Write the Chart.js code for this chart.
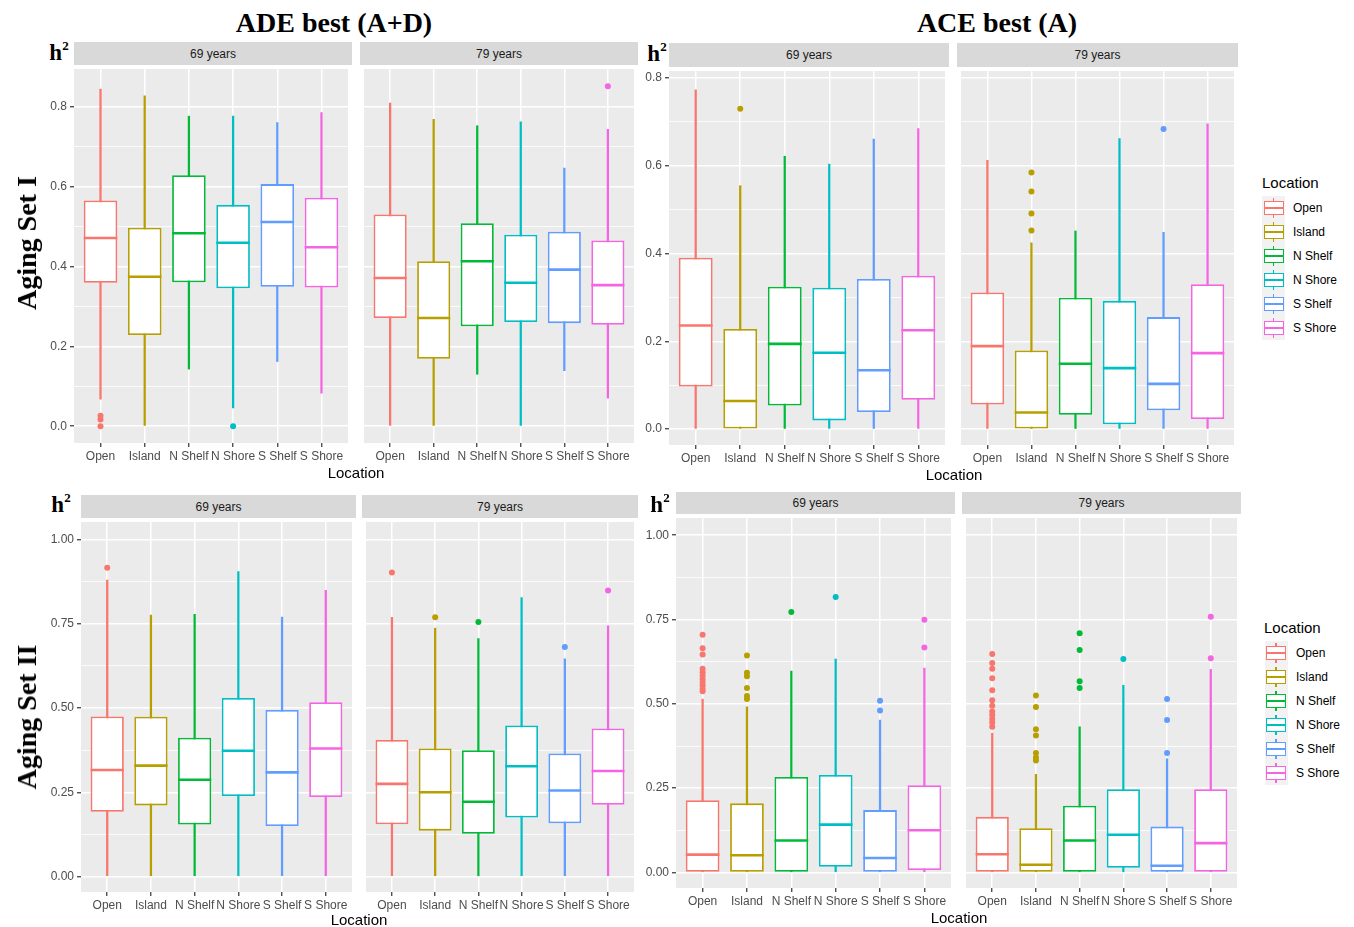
<!DOCTYPE html>
<html>
<head>
<meta charset="utf-8">
<script src="https://cdn.jsdelivr.net/npm/chart.js"></script>
<style>
  body { margin: 0; background: #ffffff; }
  #wrap { position: relative; width: 1354px; height: 927px; overflow: hidden; background: #ffffff;
          font-family: 'Liberation Sans', Arial, Helvetica, sans-serif; }
  canvas { position: absolute; }
  .hdr { position: absolute; font-family: 'Liberation Serif', 'Times New Roman', serif; font-weight: bold;
         font-size: 28px; line-height: 1; color: #000; white-space: nowrap; transform: translate(-50%, -50%); }
  .rowlab { position: absolute; font-family: 'Liberation Serif', 'Times New Roman', serif; font-weight: bold;
         font-size: 28px; line-height: 1; color: #000; white-space: nowrap; transform: translate(-50%, -50%) rotate(-90deg); }
  .hsq { position: absolute; font-family: 'Liberation Serif', 'Times New Roman', serif; font-weight: bold;
         font-size: 23px; line-height: 1; color: #000; white-space: nowrap; transform: translate(-50%, -50%); }
  .hsq sup { font-size: 13px; vertical-align: 0; position: relative; top: -10px; }
  .strip { position: absolute; background: #D9D9D9; color: #1A1A1A; font-size: 12px;
           display: flex; align-items: center; justify-content: center; }
  .xt { position: absolute; font-size: 15px; color: #000; line-height: 1; white-space: nowrap; transform: translate(-50%, -50%); }
  .legt { position: absolute; font-size: 15px; color: #000; line-height: 1; white-space: nowrap; transform: translateY(-50%); }
  .key { position: absolute; width: 23px; height: 24px; background: #F2F2F2; }
  .key .wh { position: absolute; left: 10.8px; top: 2px; width: 1.5px; height: 20px; }
  .key .bx { position: absolute; left: 1.5px; top: 5px; width: 20px; height: 14px; box-sizing: border-box; background: #fff; border-style: solid; border-width: 1.5px; }
  .key .md { position: absolute; left: 1.5px; top: 11.2px; width: 20px; height: 1.6px; }
  .legl { position: absolute; font-size: 12px; color: #000; line-height: 1; white-space: nowrap; transform: translateY(-50%); }
</style>
</head>
<body>
<div id="wrap"></div>
<script>
// ---------------- data ----------------
const locations = ['Open', 'Island', 'N Shelf', 'N Shore', 'S Shelf', 'S Shore'];
const facetLabels = ['69 years', '79 years'];
const locationColors = ['#F8766D', '#B79F00', '#00BA38', '#00BFC4', '#619CFF', '#F564E3'];

// ADE best (A+D), Aging Set I, 69 years
const adeI69Low  = [0.068, 0.000, 0.143, 0.046, 0.162, 0.083];
const adeI69Q1   = [0.359, 0.228, 0.360, 0.345, 0.349, 0.347];
const adeI69Med  = [0.471, 0.374, 0.483, 0.459, 0.511, 0.448];
const adeI69Q3   = [0.565, 0.497, 0.628, 0.554, 0.606, 0.572];
const adeI69High = [0.844, 0.827, 0.776, 0.776, 0.760, 0.785];
const adeI69Out  = [[0.026, 0.017, 0.000], [], [], [0.000], [], []];
// ADE best (A+D), Aging Set I, 79 years
const adeI79Low  = [0.000, 0.000, 0.130, 0.000, 0.139, 0.070];
const adeI79Q1   = [0.271, 0.169, 0.250, 0.261, 0.258, 0.254];
const adeI79Med  = [0.371, 0.271, 0.413, 0.359, 0.392, 0.353];
const adeI79Q3   = [0.530, 0.413, 0.508, 0.479, 0.487, 0.465];
const adeI79High = [0.809, 0.768, 0.752, 0.762, 0.646, 0.743];
const adeI79Out  = [[], [], [], [], [], [0.851]];

// ACE best (A), Aging Set I, 69 years
const aceI69Low  = [0.000, 0.000, 0.000, 0.000, 0.000, 0.000];
const aceI69Q1   = [0.097, 0.000, 0.054, 0.020, 0.039, 0.067];
const aceI69Med  = [0.236, 0.064, 0.194, 0.174, 0.134, 0.225];
const aceI69Q3   = [0.390, 0.228, 0.324, 0.322, 0.342, 0.349];
const aceI69High = [0.772, 0.554, 0.621, 0.603, 0.660, 0.684];
const aceI69Out  = [[], [0.729], [], [], [], []];
// ACE best (A), Aging Set I, 79 years
const aceI79Low  = [0.000, 0.000, 0.000, 0.000, 0.000, 0.000];
const aceI79Q1   = [0.056, 0.000, 0.033, 0.011, 0.043, 0.023];
const aceI79Med  = [0.189, 0.038, 0.149, 0.139, 0.103, 0.173];
const aceI79Q3   = [0.311, 0.179, 0.299, 0.292, 0.255, 0.330];
const aceI79High = [0.612, 0.424, 0.451, 0.661, 0.448, 0.695];
const aceI79Out  = [[], [0.584, 0.541, 0.491, 0.452], [], [], [0.683], []];

// ADE best (A+D), Aging Set II, 69 years
const adeII69Low  = [0.000, 0.000, 0.000, 0.000, 0.000, 0.000];
const adeII69Q1   = [0.192, 0.211, 0.154, 0.239, 0.150, 0.236];
const adeII69Med  = [0.316, 0.329, 0.287, 0.373, 0.309, 0.380];
const adeII69Q3   = [0.475, 0.474, 0.412, 0.530, 0.494, 0.517];
const adeII69High = [0.880, 0.776, 0.778, 0.905, 0.770, 0.849];
const adeII69Out  = [[0.916], [], [], [], [], []];
// ADE best (A+D), Aging Set II, 79 years
const adeII79Low  = [0.000, 0.000, 0.000, 0.000, 0.000, 0.000];
const adeII79Q1   = [0.155, 0.136, 0.127, 0.175, 0.158, 0.213];
const adeII79Med  = [0.275, 0.250, 0.222, 0.327, 0.255, 0.313];
const adeII79Q3   = [0.405, 0.380, 0.375, 0.448, 0.365, 0.439];
const adeII79High = [0.769, 0.737, 0.706, 0.828, 0.646, 0.744];
const adeII79Out  = [[0.902], [0.769], [0.755], [], [0.681], [0.849]];

// ACE best (A), Aging Set II, 69 years
const aceII69Low  = [0.000, 0.000, 0.000, 0.000, 0.000, 0.000];
const aceII69Q1   = [0.000, 0.000, 0.000, 0.017, 0.000, 0.007];
const aceII69Med  = [0.053, 0.051, 0.095, 0.142, 0.043, 0.125];
const aceII69Q3   = [0.214, 0.205, 0.283, 0.289, 0.185, 0.259];
const aceII69High = [0.514, 0.491, 0.597, 0.633, 0.452, 0.606];
const aceII69Out  = [
  [0.705, 0.665, 0.646, 0.604, 0.594, 0.584, 0.574, 0.565, 0.555, 0.545, 0.537],
  [0.643, 0.592, 0.582, 0.547, 0.523, 0.514],
  [0.772],
  [0.817],
  [0.509, 0.480],
  [0.749, 0.667]
];
// ACE best (A), Aging Set II, 79 years
const aceII79Low  = [0.000, 0.000, 0.000, 0.000, 0.000, 0.000];
const aceII79Q1   = [0.000, 0.000, 0.000, 0.014, 0.000, 0.000];
const aceII79Med  = [0.054, 0.023, 0.095, 0.112, 0.020, 0.087];
const aceII79Q3   = [0.165, 0.131, 0.198, 0.247, 0.136, 0.247];
const aceII79High = [0.413, 0.291, 0.432, 0.555, 0.337, 0.602];
const aceII79Out  = [
  [0.648, 0.621, 0.604, 0.576, 0.540, 0.511, 0.494, 0.477, 0.467, 0.455, 0.445, 0.432],
  [0.525, 0.491, 0.425, 0.406, 0.354, 0.341, 0.332],
  [0.709, 0.660, 0.567, 0.547],
  [0.633],
  [0.514, 0.452, 0.354],
  [0.758, 0.635]
];

// ---------------- layout ----------------
const wrap = document.getElementById('wrap');
function addDiv(cls, html, css) {
  const d = document.createElement('div');
  d.className = cls; d.innerHTML = html;
  Object.assign(d.style, css);
  wrap.appendChild(d);
  return d;
}

const axI  = { yMin: -0.042, yMax: 0.894, step: 0.1, major: 0.2, dec: 1 };
const axIc = { yMin: -0.036, yMax: 0.815, step: 0.1, major: 0.2, dec: 1 };
const axII = { yMin: -0.046, yMax: 1.052, step: 0.125, major: 0.25, dec: 2 };
const axIIc= { yMin: -0.046, yMax: 1.051, step: 0.125, major: 0.25, dec: 2 };

const panels = [
  { stats: [adeI69Low, adeI69Q1, adeI69Med, adeI69Q3, adeI69High, adeI69Out], facet: 0, ax: axI, x0: 74, x1: 352, st: 42, y0: 65, y1: 443, showY: true },
  { stats: [adeI79Low, adeI79Q1, adeI79Med, adeI79Q3, adeI79High, adeI79Out], facet: 1, ax: axI, x0: 360, x1: 638, st: 42, y0: 65, y1: 443, showY: false },
  { stats: [aceI69Low, aceI69Q1, aceI69Med, aceI69Q3, aceI69High, aceI69Out], facet: 0, ax: axIc, x0: 669, x1: 949, st: 43, y0: 67, y1: 445, showY: true },
  { stats: [aceI79Low, aceI79Q1, aceI79Med, aceI79Q3, aceI79High, aceI79Out], facet: 1, ax: axIc, x0: 957, x1: 1238, st: 43, y0: 67, y1: 445, showY: false },
  { stats: [adeII69Low, adeII69Q1, adeII69Med, adeII69Q3, adeII69High, adeII69Out], facet: 0, ax: axII, x0: 81, x1: 356, st: 495, y0: 518, y1: 892, showY: true },
  { stats: [adeII79Low, adeII79Q1, adeII79Med, adeII79Q3, adeII79High, adeII79Out], facet: 1, ax: axII, x0: 362, x1: 638, st: 495, y0: 518, y1: 892, showY: false },
  { stats: [aceII69Low, aceII69Q1, aceII69Med, aceII69Q3, aceII69High, aceII69Out], facet: 0, ax: axIIc, x0: 676, x1: 955, st: 492, y0: 514, y1: 888, showY: true },
  { stats: [aceII79Low, aceII79Q1, aceII79Med, aceII79Q3, aceII79High, aceII79Out], facet: 1, ax: axIIc, x0: 962, x1: 1241, st: 492, y0: 514, y1: 888, showY: false }
];

const panelBg = {
  id: 'panelBg',
  beforeDraw(chart) {
    const { ctx, chartArea: a } = chart;
    ctx.save();
    ctx.fillStyle = '#EBEBEB';
    ctx.fillRect(a.left, a.top, a.right - a.left, a.bottom - a.top);
    ctx.restore();
  }
};

Chart.defaults.font.family = "'Liberation Sans', Arial, Helvetica, sans-serif";
Chart.defaults.font.size = 12;
Chart.defaults.color = '#4D4D4D';

function makePanel(p) {
  const [low, q1, med, q3, high, out] = p.stats;
  const ax = p.ax;
  const yW = p.showY ? 40 : 0;
  const xH = 24;
  const w = (p.x1 - p.x0) + yW;
  const h = (p.y1 - p.y0) + xH;

  addDiv('strip', facetLabels[p.facet], { left: p.x0 + 'px', top: p.st + 'px', width: (p.x1 - p.x0) + 'px', height: (p.y0 - p.st) + 'px' });

  const cv = document.createElement('canvas');
  cv.width = w; cv.height = h;
  cv.style.left = (p.x0 - yW) + 'px'; cv.style.top = p.y0 + 'px';
  cv.style.width = w + 'px'; cv.style.height = h + 'px';
  wrap.appendChild(cv);

  const isMajor = v => Math.abs(v / ax.major - Math.round(v / ax.major)) < 1e-6;
  const whiskers = locations.map((_, i) => ({ x: i + 1, y: [low[i], high[i]] }));
  const boxes = locations.map((_, i) => ({ x: i + 1, y: [q1[i], q3[i]] }));
  const medians = locations.map((_, i) => ({ x: i + 1, y: med[i] }));
  const outPts = [], outCols = [];
  out.forEach((vals, i) => vals.forEach(v => { outPts.push({ x: i + 1, y: v }); outCols.push(locationColors[i]); }));

  new Chart(cv, {
    type: 'bar',
    data: {
      datasets: [
        { type: 'bar', data: whiskers, backgroundColor: locationColors, borderWidth: 0,
          barThickness: 1.6, grouped: false, order: 4 },
        { type: 'bar', data: boxes, backgroundColor: '#FFFFFF', borderColor: locationColors, borderWidth: 1.8,
          borderSkipped: false, grouped: false, categoryPercentage: 1, barPercentage: 0.76, order: 3 },
        { type: 'scatter', data: medians, pointStyle: 'line', pointBorderColor: locationColors, pointBorderWidth: 2.6,
          pointRadius: ctx => { const xs = ctx.chart.scales.x; return Math.abs(xs.getPixelForValue(1.38) - xs.getPixelForValue(1)); },
          order: 2 },
        { type: 'scatter', data: outPts, pointStyle: 'circle', pointRadius: 3, pointBackgroundColor: outCols,
          pointBorderWidth: 0, order: 1 }
      ]
    },
    options: {
      responsive: false, animation: false, events: [],
      layout: { padding: 0 },
      plugins: { legend: { display: false }, tooltip: { enabled: false }, title: { display: false } },
      scales: {
        x: {
          type: 'linear', min: 0.4, max: 6.6, offset: false,
          grid: { offset: false, color: '#FFFFFF', lineWidth: 1.5, drawTicks: true, tickLength: 4, tickColor: '#333333', tickWidth: 1.2 },
          border: { display: false },
          ticks: { stepSize: 1, includeBounds: false, autoSkip: false, maxRotation: 0, minRotation: 0, padding: 2,
                   color: '#4D4D4D', font: { size: 12 },
                   callback: v => locations[Math.round(v) - 1] ?? '' },
          afterFit: s => { s.height = xH; s.paddingLeft = 0; s.paddingRight = 0; }
        },
        y: {
          type: 'linear', min: ax.yMin, max: ax.yMax, beginAtZero: false,
          grid: { color: '#FFFFFF',
                  lineWidth: c => (c.tick && !isMajor(c.tick.value)) ? 0.8 : 1.5,
                  drawTicks: p.showY, tickLength: 4, tickWidth: 1.2,
                  tickColor: c => (c.tick && isMajor(c.tick.value)) ? '#333333' : 'rgba(0,0,0,0)' },
          border: { display: false },
          ticks: { display: p.showY, stepSize: ax.step, includeBounds: false, autoSkip: false, padding: 3,
                   color: '#4D4D4D', font: { size: 12 },
                   callback: v => isMajor(v) ? v.toFixed(ax.dec) : '' },
          afterFit: s => { s.width = yW; s.paddingTop = 0; s.paddingBottom = 0; }
        }
      }
    },
    plugins: [panelBg]
  });
}
panels.forEach(makePanel);

// ---------------- titles & labels ----------------
addDiv('hdr', 'ADE best (A+D)', { left: '334px', top: '22.5px' });
addDiv('hdr', 'ACE best (A)', { left: '997px', top: '22.5px' });
addDiv('rowlab', 'Aging Set I', { left: '27px', top: '243px' });
addDiv('rowlab', 'Aging Set II', { left: '27px', top: '717px' });
[[59, 52], [657, 53], [61, 504], [660, 504]].forEach(([x, y]) =>
  addDiv('hsq', 'h<sup>2</sup>', { left: x + 'px', top: y + 'px' }));
[[356, 472], [954, 474], [359, 919], [959, 917]].forEach(([x, y]) =>
  addDiv('xt', 'Location', { left: x + 'px', top: y + 'px' }));

// ---------------- legends ----------------
function makeLegend(tx, ty, keyX, firstTop, labX) {
  addDiv('legt', 'Location', { left: tx + 'px', top: ty + 'px' });
  locations.forEach((name, i) => {
    const top = firstTop + i * 24;
    const c = locationColors[i];
    const k = addDiv('key', '<div class="wh"></div><div class="bx"></div><div class="md"></div>', { left: keyX + 'px', top: top + 'px' });
    k.querySelector('.wh').style.background = c;
    k.querySelector('.bx').style.borderColor = c;
    k.querySelector('.md').style.background = c;
    addDiv('legl', name, { left: labX + 'px', top: (top + 12) + 'px' });
  });
}
makeLegend(1262, 181.5, 1262, 196.3, 1293);
makeLegend(1264, 627, 1264.5, 641.3, 1296);
</script>
</body>
</html>
